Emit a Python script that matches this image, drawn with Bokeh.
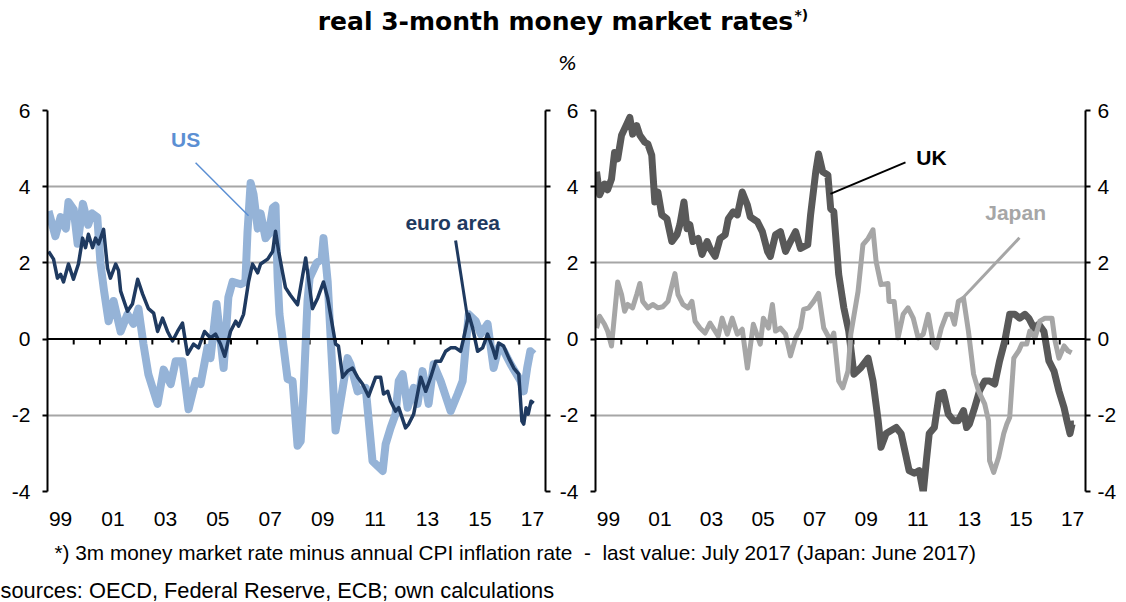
from bokeh.plotting import figure
from bokeh.models import Range1d, LinearAxis, FixedTicker, Span
from bokeh.layouts import column, row
from bokeh.embed import file_html
from bokeh.resources import INLINE
from bokeh.core.properties import value

# ---------------- data (decimal years, % values) ----------------
us_dates = [1999.04, 1999.30, 1999.50, 1999.70, 1999.80, 2000.00, 2000.15, 2000.35, 2000.55, 2000.70,
            2000.90, 2001.02, 2001.15, 2001.33, 2001.52, 2001.79, 2002.05, 2002.28, 2002.47, 2002.66,
            2002.85, 2003.20, 2003.43, 2003.70, 2003.89, 2004.15, 2004.38, 2004.65, 2004.84, 2005.10,
            2005.22, 2005.45, 2005.72, 2005.90, 2006.06, 2006.37, 2006.55, 2006.63, 2006.75, 2006.86,
            2007.02, 2007.13, 2007.32, 2007.44, 2007.60, 2007.70, 2007.78, 2007.85, 2008.16, 2008.35,
            2008.54, 2008.66, 2008.77, 2008.92, 2009.00, 2009.27, 2009.46, 2009.53, 2009.69, 2009.99,
            2010.10, 2010.45, 2010.56, 2010.83, 2011.14, 2011.40, 2011.79, 2011.90, 2012.09, 2012.28,
            2012.40, 2012.55, 2012.74, 2012.97, 2013.12, 2013.31, 2013.54, 2013.73, 2014.00, 2014.38,
            2014.65, 2014.84, 2014.95, 2015.07, 2015.34, 2015.53, 2015.79, 2016.02, 2016.21, 2016.40,
            2016.67, 2017.05, 2017.17, 2017.30, 2017.42, 2017.55]
us_rates = [3.36, 2.70, 3.20, 2.90, 3.60, 3.40, 2.50, 3.55, 3.00, 3.30,
            3.20, 2.00, 1.30, 0.47, 1.00, 0.20, 0.65, 0.40, 0.80, -0.13,
            -0.93, -1.70, -0.80, -1.18, -0.58, -0.58, -1.84, -1.10, -1.18, -0.23,
            -0.50, 0.92, -0.76, 1.10, 1.50, 1.44, 1.50, 2.80, 4.10, 3.80,
            2.90, 3.30, 2.65, 2.75, 3.45, 3.50, 1.60, 0.65, -1.05, -1.10,
            -2.80, -2.68, -1.37, 1.00, 1.60, 2.00, 2.10, 2.65, 1.50, -2.40,
            -1.97, -0.50, -0.66, -1.37, -1.28, -3.20, -3.46, -2.76, -2.33, -1.97,
            -1.10, -0.92, -1.80, -1.28, -1.70, -0.84, -1.70, -0.66, -1.10, -1.89,
            -1.44, -1.10, -0.23, 0.65, 0.47, 0.13, 0.40, -0.76, -0.23, -0.30,
            -0.66, -1.10, -1.37, -0.76, -0.32, -0.40]

ea_dates = [1999.04, 1999.23, 1999.38, 1999.50, 1999.61, 1999.80, 1999.99, 2000.18, 2000.34, 2000.45,
            2000.56, 2000.72, 2000.83, 2000.95, 2001.14, 2001.29, 2001.40, 2001.60, 2001.71, 2001.79,
            2002.05, 2002.24, 2002.44, 2002.63, 2002.85, 2003.05, 2003.20, 2003.39, 2003.58, 2003.77,
            2003.96, 2004.15, 2004.34, 2004.57, 2004.76, 2004.99, 2005.22, 2005.41, 2005.60, 2005.76,
            2005.98, 2006.18, 2006.29, 2006.48, 2006.67, 2006.82, 2007.02, 2007.13, 2007.40, 2007.59,
            2007.70, 2007.82, 2007.97, 2008.08, 2008.27, 2008.54, 2008.85, 2009.11, 2009.31, 2009.53,
            2009.69, 2009.99, 2010.10, 2010.26, 2010.45, 2010.64, 2010.83, 2011.02, 2011.25, 2011.52,
            2011.71, 2011.82, 2011.98, 2012.09, 2012.28, 2012.40, 2012.66, 2012.78, 2012.97, 2013.24,
            2013.43, 2013.62, 2013.81, 2014.00, 2014.19, 2014.38, 2014.57, 2014.76, 2014.88, 2015.07,
            2015.22, 2015.41, 2015.60, 2015.79, 2015.98, 2016.10, 2016.21, 2016.40, 2016.60, 2016.79,
            2016.98, 2017.10, 2017.17, 2017.26, 2017.34, 2017.45, 2017.55]
ea_rates = [2.30, 2.10, 1.60, 1.70, 1.50, 1.97, 1.57, 1.97, 2.65, 2.40,
            2.75, 2.40, 2.65, 2.50, 2.88, 1.86, 1.60, 1.97, 1.80, 1.26,
            0.73, 0.92, 1.57, 1.18, 0.80, 0.68, 0.20, 0.55, 0.20, -0.05,
            0.20, 0.42, -0.40, -0.13, -0.23, 0.20, 0.03, 0.13, -0.13, -0.45,
            0.20, 0.47, 0.34, 0.65, 1.50, 1.97, 1.74, 1.97, 2.10, 2.30,
            2.83, 2.30, 1.74, 1.35, 1.15, 0.90, 2.13, 0.80, 1.08, 1.50,
            1.08, -0.13, -0.18, -1.00, -0.84, -0.76, -1.00, -1.18, -1.50, -1.00,
            -1.00, -1.44, -1.37, -1.63, -1.89, -1.80, -2.33, -2.23, -1.97, -1.00,
            -1.37, -1.00, -0.58, -0.58, -0.32, -0.23, -0.23, -0.32, 0.03, 0.65,
            0.29, -0.32, -0.23, 0.13, -0.23, -0.50, -0.10, -0.18, -0.50, -0.76,
            -0.92, -2.15, -2.23, -1.80, -1.97, -1.63, -1.68]

uk_dates = [1999.04, 1999.16, 1999.35, 1999.47, 1999.62, 1999.74, 1999.86, 2000.01, 2000.21, 2000.33,
            2000.44, 2000.60, 2000.72, 2000.91, 2001.03, 2001.18, 2001.30, 2001.42, 2001.57, 2001.77,
            2001.96, 2002.16, 2002.27, 2002.43, 2002.55, 2002.66, 2002.78, 2002.98, 2003.13, 2003.33,
            2003.44, 2003.64, 2003.83, 2004.03, 2004.15, 2004.34, 2004.50, 2004.69, 2004.89, 2005.00,
            2005.28, 2005.47, 2005.67, 2005.78, 2005.98, 2006.17, 2006.37, 2006.56, 2006.76, 2006.95,
            2007.23, 2007.34, 2007.54, 2007.65, 2007.81, 2008.01, 2008.12, 2008.24, 2008.43, 2008.63,
            2008.82, 2009.02, 2009.29, 2009.57, 2009.76, 2009.96, 2010.07, 2010.27, 2010.46, 2010.66,
            2010.85, 2011.05, 2011.16, 2011.36, 2011.55, 2011.71, 2011.83, 2011.94, 2012.14, 2012.33,
            2012.49, 2012.68, 2012.88, 2013.07, 2013.27, 2013.39, 2013.50, 2013.70, 2013.89, 2014.09,
            2014.28, 2014.48, 2014.67, 2014.87, 2015.06, 2015.26, 2015.45, 2015.65, 2015.80, 2016.00,
            2016.19, 2016.39, 2016.58, 2016.78, 2016.97, 2017.17, 2017.28, 2017.40, 2017.48, 2017.55]
uk_rates = [4.39, 3.79, 4.07, 3.92, 4.20, 4.90, 4.73, 5.35, 5.64, 5.82,
            5.38, 5.60, 5.35, 5.17, 5.12, 4.83, 3.60, 3.86, 3.26, 3.16,
            2.56, 2.74, 3.00, 3.60, 2.90, 3.00, 2.56, 2.64, 2.22, 2.56,
            2.38, 2.17, 2.64, 2.74, 3.16, 3.34, 3.26, 3.86, 3.52, 3.21,
            3.08, 2.82, 2.30, 2.17, 2.74, 2.82, 2.30, 2.56, 2.82, 2.38,
            2.48, 3.26, 4.39, 4.86, 4.39, 4.31, 3.42, 3.34, 1.70, 0.82,
            0.21, -0.92, -0.75, -0.50, -1.10, -2.14, -2.84, -2.48, -2.40, -2.32,
            -2.48, -3.10, -3.45, -3.52, -3.45, -4.02, -3.19, -2.48, -2.32, -1.44,
            -1.40, -1.97, -2.14, -2.14, -1.88, -2.32, -2.23, -1.80, -1.36, -1.10,
            -1.10, -1.18, -0.57, -0.05, 0.65, 0.65, 0.55, 0.65, 0.55, 0.29,
            0.39, 0.20, -0.57, -0.84, -1.36, -1.80, -2.14, -2.48, -2.23, -2.23]

jp_dates = [1999.04, 1999.16, 1999.35, 1999.47, 1999.62, 1999.74, 1999.86, 2000.01, 2000.13, 2000.25,
            2000.44, 2000.60, 2000.72, 2000.83, 2001.03, 2001.22, 2001.42, 2001.61, 2001.81, 2002.08,
            2002.20, 2002.39, 2002.59, 2002.74, 2002.86, 2003.05, 2003.25, 2003.44, 2003.64, 2003.76,
            2003.91, 2004.11, 2004.30, 2004.50, 2004.69, 2004.89, 2005.12, 2005.39, 2005.51, 2005.71,
            2005.86, 2005.98, 2006.17, 2006.37, 2006.56, 2006.76, 2006.95, 2007.07, 2007.27, 2007.46,
            2007.65, 2007.85, 2008.12, 2008.24, 2008.43, 2008.59, 2008.79, 2008.90, 2009.18, 2009.37,
            2009.57, 2009.76, 2009.88, 2010.07, 2010.34, 2010.38, 2010.58, 2010.73, 2010.93, 2011.12,
            2011.32, 2011.51, 2011.71, 2011.90, 2012.10, 2012.22, 2012.41, 2012.61, 2012.80, 2012.92,
            2013.07, 2013.27, 2013.46, 2013.66, 2013.85, 2014.09, 2014.24, 2014.28, 2014.44, 2014.63,
            2014.83, 2014.95, 2015.06, 2015.22, 2015.41, 2015.53, 2015.72, 2015.84, 2016.04, 2016.23,
            2016.43, 2016.70, 2016.82, 2016.97, 2017.17, 2017.32, 2017.46]
jp_rates = [0.29, 0.60, 0.39, 0.21, -0.18, 0.65, 1.50, 1.17, 0.73, 0.91,
            0.82, 1.17, 1.46, 0.99, 0.82, 0.91, 0.82, 0.85, 0.99, 1.72,
            1.17, 0.91, 0.82, 0.99, 0.47, 0.29, 0.16, 0.42, 0.21, 0.08,
            0.55, 0.13, 0.55, 0.13, 0.26, -0.76, 0.39, -0.13, 0.55, 0.29,
            0.91, 0.21, 0.29, 0.13, -0.44, 0.03, 0.29, 0.78, 0.82, 0.99,
            1.20, 0.29, -0.05, 0.16, -1.10, -1.28, -0.84, 0.13, 1.25, 2.48,
            2.64, 2.87, 2.04, 1.43, 1.46, 0.99, 0.99, 0.03, 0.65, 0.82,
            0.55, 0.03, 0.13, 0.65, -0.13, -0.23, 0.29, 0.65, 0.65, 0.39,
            0.99, 1.07, 0.21, -0.92, -1.36, -1.70, -2.14, -3.19, -3.50, -3.10,
            -2.48, -2.23, -2.06, -0.50, -0.31, -0.13, -0.13, 0.21, 0.03, 0.47,
            0.55, 0.55, -0.05, -0.50, -0.18, -0.31, -0.36]

x_label_pos = [1999.5, 2001.5, 2003.5, 2005.5, 2007.5, 2009.5, 2011.5, 2013.5, 2015.5, 2017.5]
x_label_txt = ["99", "01", "03", "05", "07", "09", "11", "13", "15", "17"]
year_ticks = [2000, 2001, 2002, 2003, 2004, 2005, 2006, 2007, 2008, 2009,
              2010, 2011, 2012, 2013, 2014, 2015, 2016, 2017]
y_ticks = [-4, -2, 0, 2, 4, 6]
y_tick_txt = ["-4", "-2", "0", "2", "4", "6"]
grid_ticks = [-4, -2, 2, 4, 6]

TITLE = "real 3-month money market rates"
FOOTNOTE = "*) 3m money market rate minus annual CPI inflation rate \u00a0-\u00a0 last value: July 2017 (Japan: June 2017)"
SOURCES = "sources: OECD, Federal Reserve, ECB; own calculations"

SANS = "Liberation Sans"
BOTTOM = 42
HEADER_H = 95
FOOTER_H = 69


def style_yaxis(ax, show_labels, standoff):
    ax.ticker = FixedTicker(ticks=y_ticks)
    ax.axis_line_color = "black"
    ax.axis_line_width = 2
    ax.major_tick_line_color = "black"
    ax.major_tick_line_width = 2
    ax.major_tick_out = 5
    ax.major_tick_in = 0
    ax.minor_tick_line_color = None
    ax.major_label_text_font = SANS
    ax.major_label_text_color = "black"
    ax.major_label_standoff = standoff
    ax.major_label_text_font_size = "21px"
    if show_labels:
        ax.major_label_overrides = {t: s for t, s in zip(y_ticks, y_tick_txt)}
    else:
        ax.major_label_overrides = {t: "" for t in y_ticks}


def make_panel(width, b_left, b_right, b_top, frame_h, left_labels, right_labels):
    p = figure(width=width, height=b_top + frame_h + BOTTOM,
               x_range=Range1d(1999, 2018), y_range=Range1d(-4, 6),
               output_backend="svg", toolbar_location=None,
               min_border_left=b_left, min_border_right=b_right,
               min_border_top=b_top, min_border_bottom=BOTTOM,
               outline_line_color=None, background_fill_color="white",
               border_fill_color="white")
    xa = p.xaxis[0]
    xa.ticker = FixedTicker(ticks=x_label_pos)
    xa.major_label_overrides = {t: s for t, s in zip(x_label_pos, x_label_txt)}
    xa.axis_line_color = None
    xa.major_tick_line_color = None
    xa.minor_tick_line_color = None
    xa.major_label_standoff = 14
    xa.major_label_text_font = SANS
    xa.major_label_text_font_size = "21px"
    xa.major_label_text_color = "black"

    style_yaxis(p.yaxis[0], left_labels, 12)
    ra = LinearAxis()
    style_yaxis(ra, right_labels, 7 if right_labels else 0)
    p.add_layout(ra, "right")

    p.xgrid.visible = False
    p.ygrid.ticker = FixedTicker(ticks=grid_ticks)
    p.ygrid.grid_line_color = "#A6A6A6"
    p.ygrid.grid_line_width = 2

    p.add_layout(Span(location=0, dimension="width", line_color="black", line_width=2))
    p.segment(x0=year_ticks, y0=[0] * len(year_ticks), x1=year_ticks,
              y1=[-0.14] * len(year_ticks), line_color="black", line_width=2)
    return p


def label(p, x, y, txt, color):
    p.text(x=[x], y=[y], text=[txt], text_font=value(SANS), text_font_style="bold",
           text_font_size="21px", text_color=color, text_align="center",
           text_baseline="middle")


# ---------------- left panel ----------------
left = make_panel(553, 47, 8, 110 - HEADER_H, 381, True, False)
left.line(us_dates, us_rates, line_color="#95B3D7", line_width=8, line_join="round")
left.line(ea_dates, ea_rates, line_color="#1F3A60", line_width=3.5, line_join="round")
label(left, 2004.27, 5.25, "US", "#5B8FD3")
left.segment(x0=[2004.65], y0=[4.63], x1=[2006.67], y1=[3.24], line_color="#5B8FD3", line_width=1.5)
label(left, 2014.46, 3.06, "euro area", "#1F3A60")
left.segment(x0=[2014.57], y0=[2.59], x1=[2015.03], y1=[0.54], line_color="#1F3A60", line_width=3)

# ---------------- right panel ----------------
right = make_panel(573, 42, 41, 108 - HEADER_H, 383, True, True)
right.line(uk_dates, uk_rates, line_color="#595959", line_width=7, line_join="round")
right.line(jp_dates, jp_rates, line_color="#A6A6A6", line_width=5, line_join="round")
label(right, 2012.03, 4.77, "UK", "black")
right.segment(x0=[2011.02], y0=[4.64], x1=[2008.11], y1=[3.81], line_color="black", line_width=2)
label(right, 2015.29, 3.31, "Japan", "#A6A6A6")
right.segment(x0=[2015.44], y0=[2.66], x1=[2013.23], y1=[1.07], line_color="#A6A6A6", line_width=3)


def blank(width, height):
    f = figure(width=width, height=height, x_range=Range1d(0, width), y_range=Range1d(0, height),
               x_axis_location=None, y_axis_location=None, output_backend="svg",
               toolbar_location=None, min_border=0, outline_line_color=None,
               background_fill_color="white", border_fill_color="white")
    f.grid.visible = False
    return f


header = blank(1126, HEADER_H)
header.text(x=[555], y=[HEADER_H - 21], text=[TITLE], text_font=value("DejaVu Sans"), text_font_style="bold",
            text_font_size="25px", text_color="black", text_align="center", text_baseline="middle")
header.text(x=[794], y=[HEADER_H - 14], text=["*)"], text_font=value("DejaVu Sans"), text_font_style="bold",
            text_font_size="14px", text_color="black", text_align="left", text_baseline="middle")
header.text(x=[567], y=[HEADER_H - 62], text=["%"], text_font=value("DejaVu Sans"), text_font_style="italic",
            text_font_size="20px", text_color="black", text_align="center", text_baseline="middle")

footer = blank(1126, FOOTER_H)
footer.text(x=[54], y=[602 - 552], text=[FOOTNOTE], text_font=value(SANS), text_font_size="20.8px",
            text_color="black", text_align="left", text_baseline="middle")
footer.text(x=[0], y=[602 - 590], text=[SOURCES], text_font=value(SANS), text_font_size="21.8px",
            text_color="black", text_align="left", text_baseline="middle")

layout = column(header, row(left, right), footer)
open("out.html", "w").write(file_html(layout, INLINE))
